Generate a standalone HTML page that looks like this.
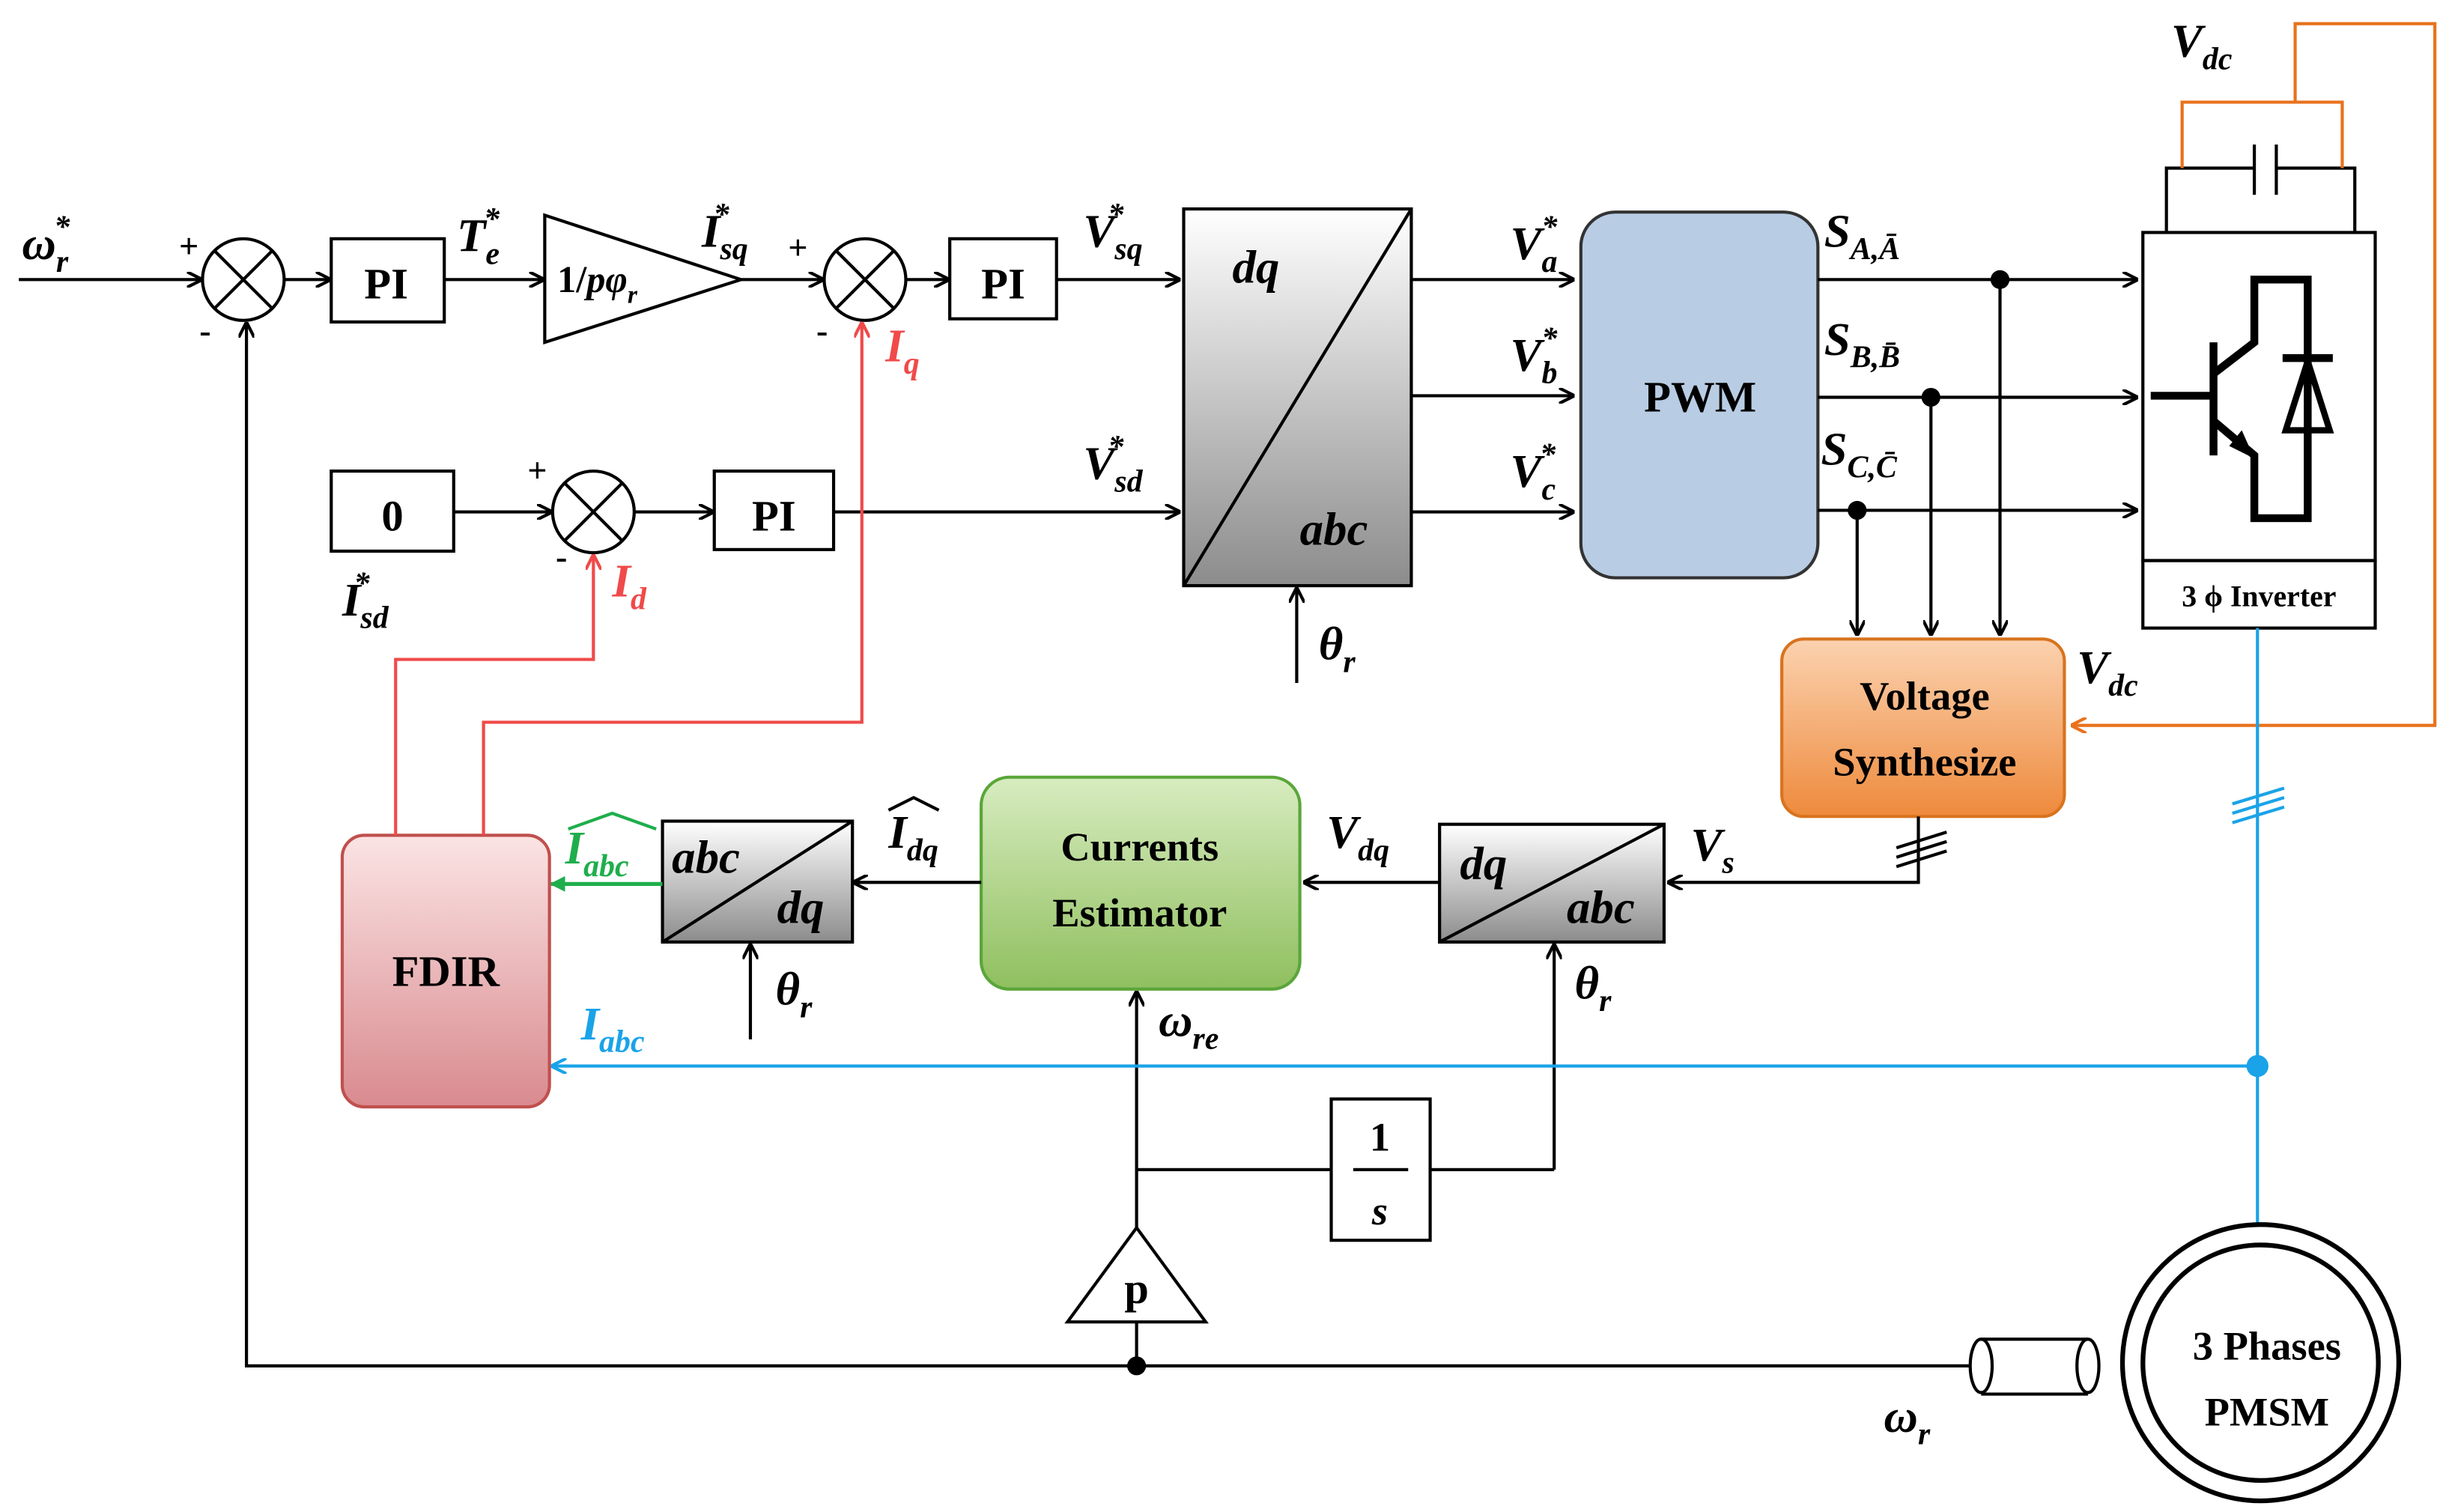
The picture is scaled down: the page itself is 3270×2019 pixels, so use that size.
<!DOCTYPE html>
<html><head><meta charset="utf-8">
<style>
html,body{margin:0;padding:0;background:#fff;}
svg{display:block;}
text{font-family:"Liberation Serif",serif;font-weight:bold;}
.it{font-style:italic;}
</style></head>
<body>
<svg width="3270" height="2019" viewBox="0 0 1560 963" xmlns="http://www.w3.org/2000/svg">
<defs>
<marker id="ab" markerWidth="10" markerHeight="10" refX="9" refY="5" orient="auto" markerUnits="userSpaceOnUse"><path d="M0,0 L10,5 L0,10" fill="none" stroke="#000" stroke-width="2"/></marker>
<marker id="ar" markerWidth="10" markerHeight="10" refX="9" refY="5" orient="auto" markerUnits="userSpaceOnUse"><path d="M0,0 L10,5 L0,10" fill="none" stroke="#f04a4a" stroke-width="2"/></marker>
<marker id="abl" markerWidth="10" markerHeight="10" refX="9" refY="5" orient="auto" markerUnits="userSpaceOnUse"><path d="M0,0 L10,5 L0,10" fill="none" stroke="#1aa3e8" stroke-width="2"/></marker>
<marker id="ag" markerWidth="10" markerHeight="10" refX="9" refY="5" orient="auto" markerUnits="userSpaceOnUse"><path d="M0,0 L10,5 L0,10 z" fill="#1fae4b"/></marker>
<marker id="ao" markerWidth="10" markerHeight="10" refX="9" refY="5" orient="auto" markerUnits="userSpaceOnUse"><path d="M0,0 L10,5 L0,10" fill="none" stroke="#e8721c" stroke-width="2"/></marker>
<linearGradient id="gw" x1="0" y1="0" x2="0" y2="1"><stop offset="0" stop-color="#ffffff"/><stop offset="1" stop-color="#8c8c8c"/></linearGradient>
<linearGradient id="gg" x1="0" y1="0" x2="0" y2="1"><stop offset="0" stop-color="#d8ecc0"/><stop offset="1" stop-color="#8fbf5e"/></linearGradient>
<linearGradient id="go" x1="0" y1="0" x2="0" y2="1"><stop offset="0" stop-color="#fbd2b0"/><stop offset="1" stop-color="#ee8a3c"/></linearGradient>
<linearGradient id="gr" x1="0" y1="0" x2="0" y2="1"><stop offset="0" stop-color="#fbe4e4"/><stop offset="1" stop-color="#d98a8f"/></linearGradient>
</defs>

<g fill="none" stroke="#000" stroke-width="2">
<!-- top row -->
<line x1="12" y1="178" x2="128" y2="178" marker-end="url(#ab)"/>
<circle cx="155" cy="178" r="26"/><line x1="137" y1="160" x2="173" y2="196"/><line x1="173" y1="160" x2="137" y2="196"/>
<line x1="181" y1="178" x2="210" y2="178" marker-end="url(#ab)"/>
<rect x="211" y="152" width="72" height="53"/>
<line x1="283" y1="178" x2="346" y2="178" marker-end="url(#ab)"/>
<polygon points="347,137 347,218 472,178"/>
<line x1="472" y1="178" x2="524" y2="178" marker-end="url(#ab)"/>
<circle cx="551" cy="178" r="26"/><line x1="533" y1="160" x2="569" y2="196"/><line x1="569" y1="160" x2="533" y2="196"/>
<line x1="577" y1="178" x2="604" y2="178" marker-end="url(#ab)"/>
<rect x="605" y="152" width="68" height="51"/>
<line x1="673" y1="178" x2="751" y2="178" marker-end="url(#ab)"/>
<!-- second row -->
<rect x="211" y="300" width="78" height="51"/>
<line x1="289" y1="326" x2="351" y2="326" marker-end="url(#ab)"/>
<circle cx="378" cy="326" r="26"/><line x1="360" y1="308" x2="396" y2="344"/><line x1="396" y1="308" x2="360" y2="344"/>
<line x1="404" y1="326" x2="454" y2="326" marker-end="url(#ab)"/>
<rect x="455" y="300" width="76" height="50"/>
<line x1="531" y1="326" x2="751" y2="326" marker-end="url(#ab)"/>
</g>
<!-- dq/abc block -->
<rect x="754" y="133" width="145" height="240" fill="url(#gw)" stroke="#000" stroke-width="2"/>
<line x1="754" y1="373" x2="899" y2="133" stroke="#000" stroke-width="2"/>
<g fill="none" stroke="#000" stroke-width="2">
<line x1="826" y1="435" x2="826" y2="375" marker-end="url(#ab)"/>
<line x1="899" y1="178" x2="1002" y2="178" marker-end="url(#ab)"/>
<line x1="899" y1="252" x2="1002" y2="252" marker-end="url(#ab)"/>
<line x1="899" y1="326" x2="1002" y2="326" marker-end="url(#ab)"/>
</g>
<rect x="1007" y="135" width="151" height="233" rx="22" fill="#b8cce4" stroke="#333" stroke-width="2"/>
<g fill="none" stroke="#000" stroke-width="2">
<line x1="1158" y1="178" x2="1361" y2="178" marker-end="url(#ab)"/>
<line x1="1158" y1="253" x2="1361" y2="253" marker-end="url(#ab)"/>
<line x1="1158" y1="325" x2="1361" y2="325" marker-end="url(#ab)"/>
<line x1="1274" y1="178" x2="1274" y2="404" marker-end="url(#ab)"/>
<line x1="1230" y1="253" x2="1230" y2="404" marker-end="url(#ab)"/>
<line x1="1183" y1="325" x2="1183" y2="404" marker-end="url(#ab)"/>
</g>
<circle cx="1274" cy="178" r="6"/><circle cx="1230" cy="253" r="6"/><circle cx="1183" cy="325" r="6"/>
<!-- inverter -->
<g fill="none" stroke="#000" stroke-width="2">
<rect x="1365" y="148" width="148" height="209"/>
<rect x="1365" y="357" width="148" height="43"/>
<polyline points="1380,148 1380,107 1436,107"/>
<polyline points="1450,107 1500,107 1500,148"/>
<line x1="1436" y1="92" x2="1436" y2="124"/>
<line x1="1450" y1="92" x2="1450" y2="124"/>
</g>
<g fill="none" stroke="#000" stroke-width="5">
<line x1="1370" y1="252" x2="1408" y2="252"/>
<line x1="1410" y1="218" x2="1410" y2="290"/>
<polyline points="1410,238 1436,218 1436,178 1470,178 1470,330 1436,330 1436,290 1410,268"/>
<line x1="1454" y1="228" x2="1486" y2="228"/>
<polygon points="1470,230 1456,274 1484,274" stroke-width="4"/>
</g>
<polygon points="1436,292 1420,284 1428,274" fill="#000"/>
<!-- orange -->
<g fill="none" stroke="#e8721c" stroke-width="2">
<polyline points="1390,107 1390,65 1492,65 1492,107"/>
<polyline points="1462,65 1462,15 1551,15 1551,462 1320,462" marker-end="url(#ao)"/>
</g>
<rect x="1135" y="407" width="180" height="113" rx="14" fill="url(#go)" stroke="#d9731e" stroke-width="2"/>
<!-- Vs path -->
<g fill="none" stroke="#000" stroke-width="2">
<polyline points="1222,520 1222,562 1063,562" marker-end="url(#ab)"/>
<line x1="1208" y1="540" x2="1240" y2="530"/><line x1="1208" y1="546" x2="1240" y2="536"/><line x1="1208" y1="552" x2="1240" y2="542"/>
</g>
<rect x="917" y="525" width="143" height="75" fill="url(#gw)" stroke="#000" stroke-width="2"/>
<line x1="917" y1="600" x2="1060" y2="525" stroke="#000" stroke-width="2"/>
<line x1="917" y1="562" x2="831" y2="562" stroke="#000" stroke-width="2" marker-end="url(#ab)"/>
<rect x="625" y="495" width="203" height="135" rx="18" fill="url(#gg)" stroke="#5aa63a" stroke-width="2"/>
<line x1="625" y1="562" x2="544" y2="562" stroke="#000" stroke-width="2" marker-end="url(#ab)"/>
<rect x="422" y="523" width="121" height="77" fill="url(#gw)" stroke="#000" stroke-width="2"/>
<line x1="422" y1="600" x2="543" y2="523" stroke="#000" stroke-width="2"/>
<line x1="422" y1="563" x2="351" y2="563" stroke="#1fae4b" stroke-width="2.5" marker-end="url(#ag)"/>
<rect x="218" y="532" width="132" height="173" rx="14" fill="url(#gr)" stroke="#c0504d" stroke-width="2"/>
<g fill="none" stroke="#000" stroke-width="2">
<line x1="478" y1="662" x2="478" y2="602" marker-end="url(#ab)"/>
<line x1="990" y1="745" x2="990" y2="602" marker-end="url(#ab)"/>
<polyline points="911,745 990,745"/>
<line x1="724" y1="745" x2="848" y2="745"/>
<rect x="848" y="700" width="63" height="90"/>
<line x1="862" y1="745" x2="897" y2="745"/>
<line x1="724" y1="782" x2="724" y2="632" marker-end="url(#ab)"/>
<polygon points="680,842 768,842 724,782"/>
<line x1="724" y1="842" x2="724" y2="870"/>
<polyline points="1255,870 157,870 157,206" marker-end="url(#ab)"/>
</g>
<circle cx="724" cy="870" r="6"/>
<!-- red -->
<g fill="none" stroke="#f04a4a" stroke-width="2">
<polyline points="252,532 252,420 378,420 378,354" marker-end="url(#ar)"/>
<polyline points="308,532 308,460 549,460 549,206" marker-end="url(#ar)"/>
</g>
<!-- blue -->
<g fill="none" stroke="#1aa3e8" stroke-width="2">
<line x1="1438" y1="400" x2="1438" y2="780"/>
<line x1="1438" y1="679" x2="352" y2="679" marker-end="url(#abl)"/>
<line x1="1422" y1="512" x2="1455" y2="502"/><line x1="1422" y1="518" x2="1455" y2="508"/><line x1="1422" y1="524" x2="1455" y2="514"/>
</g>
<circle cx="1438" cy="679" r="7" fill="#1aa3e8"/>
<!-- motor -->
<g fill="none" stroke="#000" stroke-width="2">
<path d="M1262,853 L1330,853 M1262,888 L1330,888"/>
<ellipse cx="1262" cy="870" rx="7" ry="17"/>
<ellipse cx="1330" cy="870" rx="7" ry="17"/>
<circle cx="1440" cy="868" r="88" stroke-width="3"/>
<circle cx="1440" cy="868" r="75" stroke-width="3"/>
</g>

<!-- text -->
<g font-size="28">
<text x="246" y="190" text-anchor="middle">PI</text>
<text x="639" y="190" text-anchor="middle">PI</text>
<text x="493" y="338" text-anchor="middle">PI</text>
<text x="250" y="338" text-anchor="middle">0</text>
<text x="1083" y="262" text-anchor="middle">PWM</text>
<text x="1226" y="452" text-anchor="middle" font-size="26">Voltage</text>
<text x="1226" y="494" text-anchor="middle" font-size="26">Synthesize</text>
<text x="726" y="548" text-anchor="middle" font-size="26">Currents</text>
<text x="726" y="590" text-anchor="middle" font-size="26">Estimator</text>
<text x="284" y="628" text-anchor="middle">FDIR</text>
<text x="1444" y="866" text-anchor="middle" font-size="26">3 Phases</text>
<text x="1444" y="908" text-anchor="middle" font-size="26">PMSM</text>
<text x="1439" y="386" text-anchor="middle" font-size="19">3 ϕ Inverter</text>
<text x="879" y="733" text-anchor="middle" font-size="26">1</text>
<text x="879" y="780" text-anchor="middle" font-size="26" class="it">s</text>
<text x="724" y="830" text-anchor="middle" font-size="28">p</text>
</g>
<g class="it" font-size="30">
<text x="14" y="165">ω<tspan font-size="20" dy="8">r</tspan><tspan font-size="20" dx="-9" dy="-22">*</tspan></text>
<text x="291" y="160">T<tspan font-size="20" dy="8">e</tspan><tspan font-size="20" dx="-10" dy="-22">*</tspan></text>
<text x="355" y="186" font-size="24" font-style="normal">1/<tspan font-style="italic">pφ</tspan><tspan font-size="16" dy="7" font-style="italic">r</tspan></text>
<text x="447" y="157">I<tspan font-size="20" dy="8">sq</tspan><tspan font-size="20" dx="-22" dy="-22">*</tspan></text>
<text x="690" y="157">V<tspan font-size="20" dy="8">sq</tspan><tspan font-size="20" dx="-22" dy="-22">*</tspan></text>
<text x="690" y="305">V<tspan font-size="20" dy="8">sd</tspan><tspan font-size="20" dx="-22" dy="-22">*</tspan></text>
<text x="218" y="392">I<tspan font-size="20" dy="8">sd</tspan><tspan font-size="20" dx="-22" dy="-22">*</tspan></text>
<text x="785" y="180">dq</text>
<text x="828" y="347">abc</text>
<text x="840" y="420">θ<tspan font-size="20" dy="8">r</tspan></text>
<text x="962" y="165">V<tspan font-size="20" dy="8">a</tspan><tspan font-size="20" dx="-10" dy="-22">*</tspan></text>
<text x="962" y="236">V<tspan font-size="20" dy="8">b</tspan><tspan font-size="20" dx="-10" dy="-22">*</tspan></text>
<text x="962" y="310">V<tspan font-size="20" dy="8">c</tspan><tspan font-size="20" dx="-10" dy="-22">*</tspan></text>
<text x="1162" y="157">S<tspan font-size="20" dy="8">A,Ā</tspan></text>
<text x="1162" y="226">S<tspan font-size="20" dy="8">B,B̄</tspan></text>
<text x="1160" y="296">S<tspan font-size="20" dy="8">C,C̄</tspan></text>
<text x="1383" y="36">V<tspan font-size="20" dy="8">dc</tspan></text>
<text x="1323" y="435">V<tspan font-size="20" dy="8">dc</tspan></text>
<text x="1077" y="548">V<tspan font-size="20" dy="8">s</tspan></text>
<text x="845" y="540">V<tspan font-size="20" dy="8">dq</tspan></text>
<text x="930" y="560">dq</text>
<text x="998" y="588">abc</text>
<text x="1003" y="636">θ<tspan font-size="20" dy="8">r</tspan></text>
<text x="566" y="540">I<tspan font-size="20" dy="8">dq</tspan></text>
<path d="M566,516 L582,508 L598,516" fill="none" stroke="#000" stroke-width="2"/>
<text x="428" y="556">abc</text>
<text x="495" y="588">dq</text>
<text x="494" y="640">θ<tspan font-size="20" dy="8">r</tspan></text>
<text x="738" y="660">ω<tspan font-size="20" dy="8">re</tspan></text>
<text x="1200" y="912">ω<tspan font-size="20" dy="8">r</tspan></text>
<text x="564" y="230" fill="#f04a4a">I<tspan font-size="20" dy="8">q</tspan></text>
<text x="390" y="380" fill="#f04a4a">I<tspan font-size="20" dy="8">d</tspan></text>
<text x="360" y="550" fill="#1fae4b">I<tspan font-size="20" dy="8">abc</tspan></text>
<path d="M362,528 L390,518 L418,528" fill="none" stroke="#1fae4b" stroke-width="2"/>
<text x="370" y="662" fill="#1aa3e8">I<tspan font-size="20" dy="8">abc</tspan></text>
</g>
<g font-size="22">
<text x="114" y="164">+</text><text x="127" y="218">-</text>
<text x="502" y="165">+</text><text x="520" y="218">-</text>
<text x="336" y="307">+</text><text x="354" y="362">-</text>
</g>
</svg>
</body></html>
